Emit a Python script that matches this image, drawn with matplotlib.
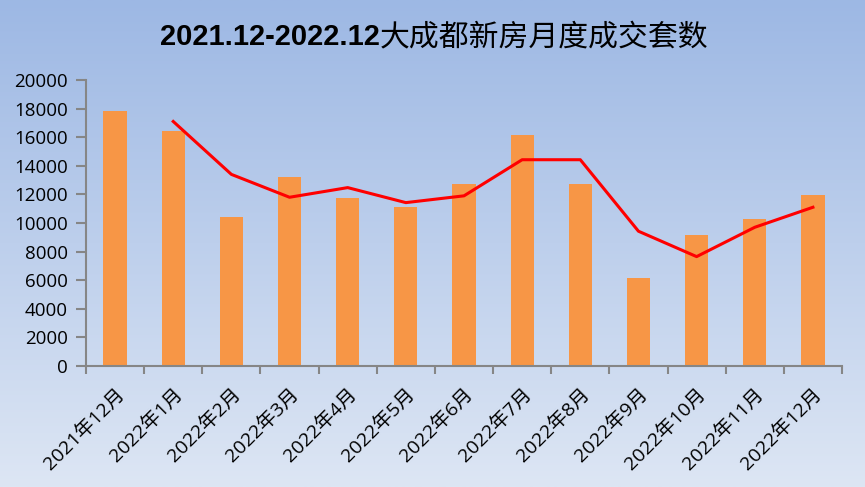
import matplotlib
matplotlib.use("Agg")
import matplotlib.pyplot as plt
import numpy as np
from matplotlib.colors import LinearSegmentedColormap

months = ["2021年12月", "2022年1月", "2022年2月", "2022年3月", "2022年4月", "2022年5月",
          "2022年6月", "2022年7月", "2022年8月", "2022年9月", "2022年10月", "2022年11月", "2022年12月"]
sales = [17800, 16400, 10400, 13200, 11750, 11100, 12700, 16150, 12700, 6150, 9150, 10250, 11950]
trend_months = months[1:]
trend = [17100, 13400, 11800, 12475, 11425, 11900, 14425, 14425, 9425, 7650, 9700, 11100]
yticks = [0, 2000, 4000, 6000, 8000, 10000, 12000, 14000, 16000, 18000, 20000]

W, H = 865, 487
fig = plt.figure(figsize=(W / 100, H / 100), dpi=100)

# gradient background
bg = fig.add_axes([0, 0, 1, 1], zorder=0)
cmap = LinearSegmentedColormap.from_list("bg", ["#9db8e4", "#dde6f4"])
grad = np.linspace(0, 1, 256).reshape(-1, 1)
bg.imshow(grad, aspect="auto", cmap=cmap, extent=[0, 1, 0, 1], origin="upper")
bg.set_axis_off()

x0, x1 = 86 / W, 842 / W
y_top, y_bot = 80, 366
ax = fig.add_axes([x0, 1 - y_bot / H, x1 - x0, (y_bot - y_top) / H], zorder=1)
ax.patch.set_alpha(0)

xs = np.arange(len(months))
ax.bar(xs, sales, width=0.4, color="#f79646", zorder=2)
tx = np.arange(1, len(months))
ax.plot(tx, trend, color="#ff0000", lw=2.2, zorder=3)

ax.set_xlim(-0.5, len(months) - 0.5)
ax.set_ylim(0, 20000)
ax.set_yticks(yticks)
ax.set_yticklabels([str(v) for v in yticks], fontsize=13.5, family=["Open Sans", "Noto Sans CJK SC"])

ax.set_xticks(xs)
ax.set_xticklabels(months, rotation=45, ha="right", va="top", rotation_mode="anchor",
                   fontsize=14, family=["Open Sans", "Noto Sans CJK SC"])
ax.tick_params(axis="x", which="major", length=0, pad=14)
ax.set_xticks(np.arange(-0.5, len(months) + 0.5, 1), minor=True)
ax.tick_params(axis="x", which="minor", length=6, color="#868686", width=1.5, direction="out")
ax.tick_params(axis="y", length=7, color="#868686", width=1.5, direction="out", pad=6)

for s in ["top", "right"]:
    ax.spines[s].set_visible(False)
for s in ["left", "bottom"]:
    ax.spines[s].set_color("#868686")
    ax.spines[s].set_linewidth(1.5)

# title in two parts
t1 = fig.text(160 / W, 1 - 37 / H, "2021.12-2022.12", fontsize=21, fontweight="bold",
              family="Liberation Sans", ha="left", va="center")
fig.canvas.draw()
bb = t1.get_window_extent()
fig.text(bb.x1 / W, 1 - 37 / H, "大成都新房月度成交套数", fontsize=21.5,
         family="Noto Sans CJK SC", ha="left", va="center")

fig.savefig("out.png", dpi=100)
